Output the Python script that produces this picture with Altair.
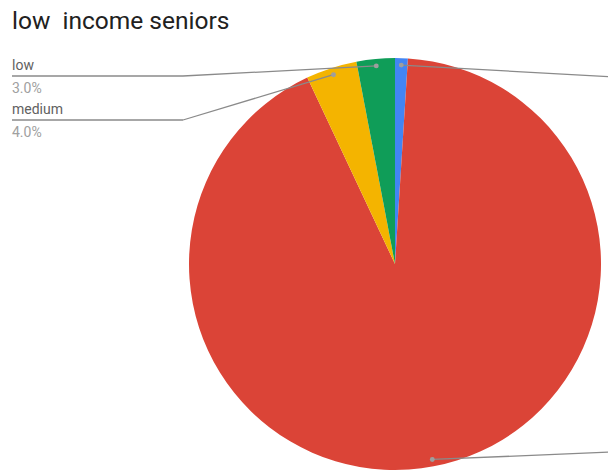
import math
import altair as alt
import pandas as pd

# ---- data ----
categories = ["very low", "high", "medium", "low"]
values = [1.0, 92.0, 4.0, 3.0]
colors = ["#4285F4", "#DB4437", "#F4B400", "#0F9D58"]
label_side = ["right", "right", "left", "left"]
title_text = "low  income seniors"

# ---- layout ----
W, H = 608, 473
CX, CY, R = 395, 264, 206
DOT_R = R - 7

total = sum(values)
rows = []
cum = 0.0
for i, (c, v) in enumerate(zip(categories, values)):
    mid = (cum + v / 2) / total * 2 * math.pi
    cum += v
    ax = CX + DOT_R * math.sin(mid)
    ay = CY - DOT_R * math.cos(mid)
    rows.append(dict(cat=c, value=v, order=i, ax=ax, ay=ay,
                     pct=f"{v / total * 100:.1f}%", side=label_side[i]))
df = pd.DataFrame(rows)

# leader lines
segs = []
left_y = {"low": 76, "medium": 120}
right_y = {"very low": 77, "high": 452}
for r in rows:
    if r["side"] == "left":
        ly = left_y[r["cat"]]
        segs.append(dict(x=r["ax"], y=r["ay"], x2=183, y2=ly))
        segs.append(dict(x=183, y=ly, x2=12, y2=ly))
    else:
        ly = right_y[r["cat"]]
        segs.append(dict(x=r["ax"], y=r["ay"], x2=W + 5, y2=ly))
segs_df = pd.DataFrame(segs)

labels = []
for r in rows:
    if r["side"] == "left":
        ly = left_y[r["cat"]]
        labels.append(dict(x=12, y=ly - 10, t=r["cat"], kind="name"))
        labels.append(dict(x=12, y=ly + 13, t=r["pct"], kind="pct"))
lab_df = pd.DataFrame(labels)

pie = alt.Chart(df).mark_arc(outerRadius=R, strokeWidth=0).encode(
    theta=alt.Theta("value:Q", stack=True),
    order=alt.Order("order:Q"),
    color=alt.Color("cat:N", scale=alt.Scale(domain=categories, range=colors), legend=None),
    x=alt.value(CX),
    y=alt.value(CY),
)

lines = alt.Chart(segs_df).mark_rule(color="#8a8a8a", strokeWidth=1.3).encode(
    x=alt.X("x:Q", scale=None), y=alt.Y("y:Q", scale=None),
    x2="x2:Q", y2="y2:Q",
)

dots = alt.Chart(df).mark_circle(size=24, color="#9e9e9e", opacity=1).encode(
    x=alt.X("ax:Q", scale=None), y=alt.Y("ay:Q", scale=None),
)

names = alt.Chart(lab_df).transform_filter(alt.datum.kind == "name").mark_text(
    align="left", baseline="middle", font="Roboto", fontSize=14, color="#616161"
).encode(x=alt.X("x:Q", scale=None), y=alt.Y("y:Q", scale=None), text="t:N")

pcts = alt.Chart(lab_df).transform_filter(alt.datum.kind == "pct").mark_text(
    align="left", baseline="middle", font="Roboto", fontSize=14, color="#a0a0a0"
).encode(x=alt.X("x:Q", scale=None), y=alt.Y("y:Q", scale=None), text="t:N")

title = alt.Chart(pd.DataFrame({"t": [title_text.replace(" ", "\u00a0")]})).mark_text(
    align="left", baseline="middle", font="Roboto", fontSize=24.5, color="#212121"
).encode(x=alt.value(12), y=alt.value(22), text="t:N")

chart = alt.layer(pie, lines, dots, names, pcts, title).properties(
    width=W, height=H, padding=0, autosize=alt.AutoSizeParams(type="none")
).configure_view(stroke=None)

chart.save("out.html", embed_options={"renderer": "svg", "actions": False})
